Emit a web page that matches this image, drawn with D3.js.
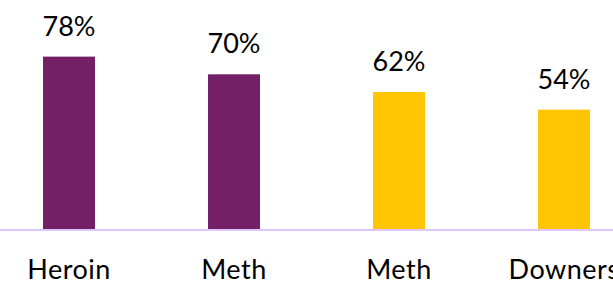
<!DOCTYPE html>
<html>
<head>
<meta charset="utf-8">
<script src="https://cdn.jsdelivr.net/npm/d3@7"></script>
<style>
  body { margin: 0; background: #fff; }
  svg { display: block; }
</style>
</head>
<body>
<svg></svg>
<script>
// chart values
var categories = ["Heroin", "Meth", "Meth", "Downers"];
var values = [78, 70, 62, 54];
var labels = ["78%", "70%", "62%", "54%"];
var groups = ["a", "a", "b", "b"];

var width = 613, height = 283;
var baseY = 229;

var data = categories.map(function(c, i) {
  return {key: i, cat: c, value: values[i], label: labels[i], group: groups[i]};
});

var svg = d3.select("svg")
    .attr("width", width)
    .attr("height", height);

// bands run past the right edge, like the cropped original
var x = d3.scaleBand()
    .domain(data.map(d => d.key))
    .range([-13.5, 646.5])
    .paddingInner(0.685)
    .paddingOuter(0.3425);

var y = d3.scaleLinear()
    .domain([0, 100])
    .range([baseY, baseY - 221]);

var color = d3.scaleOrdinal()
    .domain(["a", "b"])
    .range(["#742067", "#FFC502"]);

// bars
svg.selectAll("rect.bar")
    .data(data)
    .enter()
    .append("rect")
    .attr("class", "bar")
    .attr("x", d => x(d.key))
    .attr("y", d => y(d.value))
    .attr("width", x.bandwidth())
    .attr("height", d => y(0) - y(d.value))
    .attr("fill", d => color(d.group));

// value labels
svg.selectAll("text.val")
    .data(data)
    .enter()
    .append("text")
    .attr("class", "val")
    .attr("x", d => x(d.key) + x.bandwidth() / 2)
    .attr("y", d => y(d.value) - 21)
    .attr("text-anchor", "middle")
    .style("font-family", "Lato, 'Open Sans', sans-serif")
    .style("font-size", "27px")
    .attr("fill", "#000")
    .text(d => d.label);

// x axis
var xAxis = svg.append("g")
    .attr("transform", "translate(0," + (y(0) + 1) + ")")
    .call(d3.axisBottom(x).tickSize(0).tickPadding(0).tickFormat(function(k) { return categories[k]; }));

xAxis.select(".domain")
    .attr("d", "M0,0H" + width)
    .attr("stroke", "#DCC6FA")
    .attr("stroke-width", 2);

xAxis.selectAll("text")
    .attr("dy", 0)
    .attr("y", 49)
    .attr("fill", "#000")
    .style("font-family", "Lato, 'Open Sans', sans-serif")
    .style("font-size", "27px")
    .style("letter-spacing", "0.5px");
</script>
</body>
</html>
